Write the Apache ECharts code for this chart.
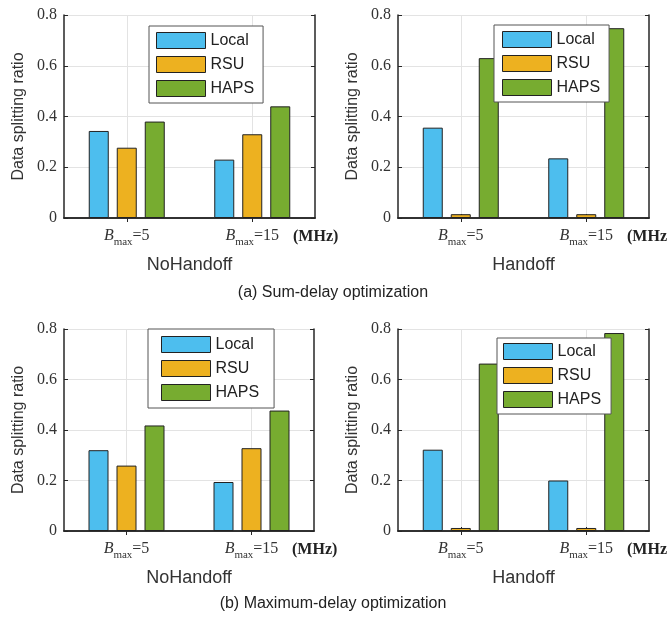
<!DOCTYPE html>
<html>
<head>
<meta charset="utf-8">
<script src="https://cdn.jsdelivr.net/npm/echarts@6/dist/echarts.min.js"></script>
<style>html,body{margin:0;padding:0;background:#fff;}#c{width:667px;height:618px;}</style>
</head>
<body>
<div id="c"></div>
<script>
// ---- data ----
const seriesNames = ['Local', 'RSU', 'HAPS'];
const bandwidths = ['5', '15'];
const yTicks = [0, 0.2, 0.4, 0.6, 0.8];
const panelTitles = ['NoHandoff', 'Handoff', 'NoHandoff', 'Handoff'];
const captions = ['(a) Sum-delay optimization', '(b) Maximum-delay optimization'];

const sumNoHandoffLocal = [0.343, 0.230];
const sumNoHandoffRSU   = [0.277, 0.330];
const sumNoHandoffHAPS  = [0.380, 0.440];

const sumHandoffLocal = [0.356, 0.235];
const sumHandoffRSU   = [0.015, 0.015];
const sumHandoffHAPS  = [0.630, 0.748];

const maxNoHandoffLocal = [0.320, 0.194];
const maxNoHandoffRSU   = [0.259, 0.328];
const maxNoHandoffHAPS  = [0.418, 0.477];

const maxHandoffLocal = [0.322, 0.200];
const maxHandoffRSU   = [0.012, 0.012];
const maxHandoffHAPS  = [0.663, 0.784];

const panels = [
  [sumNoHandoffLocal, sumNoHandoffRSU, sumNoHandoffHAPS],
  [sumHandoffLocal, sumHandoffRSU, sumHandoffHAPS],
  [maxNoHandoffLocal, maxNoHandoffRSU, maxNoHandoffHAPS],
  [maxHandoffLocal, maxHandoffRSU, maxHandoffHAPS]
];

// ---- layout / style ----
const colors = ['#4DBEEE', '#EDB120', '#77AC30'];
const gridRects = [
  {left: 64, top: 15, width: 251, height: 203},
  {left: 398, top: 15, width: 251, height: 203},
  {left: 64, top: 329, width: 250, height: 202},
  {left: 398, top: 329, width: 251, height: 202}
];
const legendPos = [
  {left: 149, top: 26, padding: [6, 9, 6, 7]},
  {left: 494, top: 25, padding: [6, 9, 6, 8]},
  {left: 148, top: 329, padding: [7, 15, 7, 13]},
  {left: 497, top: 338, padding: [5, 10, 6, 6]}
];
const axisColor = '#262626';
const serif = '"Liberation Serif", "DejaVu Serif", serif';
const sans = '"Liberation Sans", Arial, sans-serif';

const grid = [], xAxis = [], yAxis = [], series = [], legend = [], graphic = [];
const centerIdx = (i) => i === 1 || i === 3;

gridRects.forEach((g, p) => {
  grid.push(Object.assign({show: false, containLabel: false, outerBoundsMode: 'none'}, g));
  // main bottom category axis
  xAxis.push({
    type: 'category', gridIndex: p, position: 'bottom',
    data: bandwidths,
    axisLine: {show: true, lineStyle: {color: axisColor, width: 1.5}},
    axisTick: {show: true, inside: true, alignWithLabel: true, length: 4, lineStyle: {color: axisColor}},
    splitLine: {show: false},
    axisLabel: {
      margin: 10, interval: 0, hideOverlap: false,
      formatter: (v) => '{b|B}{s|max}{e|=' + v + '}',
      rich: {
        b: {fontFamily: serif, fontStyle: 'italic', fontSize: 16, color: '#333', padding: [0, 0, 4, 0], verticalAlign: 'bottom'},
        s: {fontFamily: serif, fontSize: 11, color: '#333', padding: [0, 0, 0, 0], verticalAlign: 'bottom'},
        e: {fontFamily: serif, fontSize: 16, color: '#333', padding: [0, 0, 4, 0], verticalAlign: 'bottom'}
      }
    },
    name: '(MHz)', nameLocation: 'end', nameGap: -22,
    nameTextStyle: {fontFamily: serif, fontWeight: 'bold', fontSize: 16, color: '#222', align: 'left', verticalAlign: 'top', padding: [11, 0, 0, 0]}
  });
  // auxiliary top axis: frame, top ticks and vertical grid at category centres
  xAxis.push({
    type: 'category', gridIndex: p, position: 'top', boundaryGap: false,
    data: ['', '', '', '', ''],
    axisLine: {show: true, lineStyle: {color: axisColor, width: 1.5}},
    axisTick: {show: true, inside: true, length: 4, interval: centerIdx, lineStyle: {color: axisColor}},
    splitLine: {show: true, interval: centerIdx, lineStyle: {color: '#e3e3e3', width: 1}},
    axisLabel: {show: false}
  });
  yAxis.push({
    type: 'value', gridIndex: p, position: 'left',
    min: yTicks[0], max: yTicks[yTicks.length - 1], interval: 0.2,
    axisLine: {show: true, lineStyle: {color: axisColor, width: 1.5}},
    axisTick: {show: true, inside: true, length: 4, lineStyle: {color: axisColor}},
    splitLine: {show: true, lineStyle: {color: '#e3e3e3', width: 1}},
    axisLabel: {fontFamily: serif, fontSize: 16, color: '#333', margin: 7,
      formatter: (v) => (Math.abs(v) < 1e-9 ? '0' : v.toFixed(1))},
    name: 'Data splitting ratio', nameLocation: 'middle', nameGap: 37,
    nameTextStyle: {fontFamily: sans, fontSize: 16, color: '#333'}
  });
  yAxis.push({
    type: 'value', gridIndex: p, position: 'right',
    min: yTicks[0], max: yTicks[yTicks.length - 1], interval: 0.2,
    axisLine: {show: true, lineStyle: {color: axisColor, width: 1.5}},
    axisTick: {show: true, inside: true, length: 4, lineStyle: {color: axisColor}},
    splitLine: {show: false},
    axisLabel: {show: false}
  });
  panels[p].forEach((vals, s) => {
    series.push({
      name: seriesNames[s], type: 'bar',
      xAxisIndex: p * 2, yAxisIndex: p * 2,
      data: vals,
      barWidth: 20, barGap: '40%',
      itemStyle: {color: colors[s], borderColor: '#222', borderWidth: 1},
      emphasis: {disabled: true},
      animation: false
    });
  });
  const lp = legendPos[p];
  legend.push({
    data: seriesNames, orient: 'vertical', left: lp.left, top: lp.top, padding: lp.padding,
    itemWidth: 49, itemHeight: 16, itemGap: 7, icon: 'rect',
    itemStyle: {borderWidth: 1, borderColor: '#222'},
    backgroundColor: '#fff', borderColor: '#555', borderWidth: 1, borderRadius: 0,
    selectedMode: false,
    textStyle: {fontFamily: sans, fontSize: 16, color: '#222', padding: [0, 0, 0, 0]}
  });
  graphic.push({
    type: 'text', x: g.left + g.width / 2, y: p < 2 ? 265 : 578,
    style: {text: panelTitles[p], font: '18px ' + sans, fill: '#333', textAlign: 'center', textVerticalAlign: 'middle'}
  });
});
captions.forEach((c, i) => {
  graphic.push({
    type: 'text', x: 333, y: i === 0 ? 293 : 604,
    style: {text: c, font: '16px ' + sans, fill: '#222', textAlign: 'center', textVerticalAlign: 'middle'}
  });
});

const chart = echarts.init(document.getElementById('c'), null, {renderer: 'canvas'});
chart.setOption({
  animation: false,
  backgroundColor: '#fff',
  grid, xAxis, yAxis, series, legend, graphic
});
</script>
</body>
</html>
